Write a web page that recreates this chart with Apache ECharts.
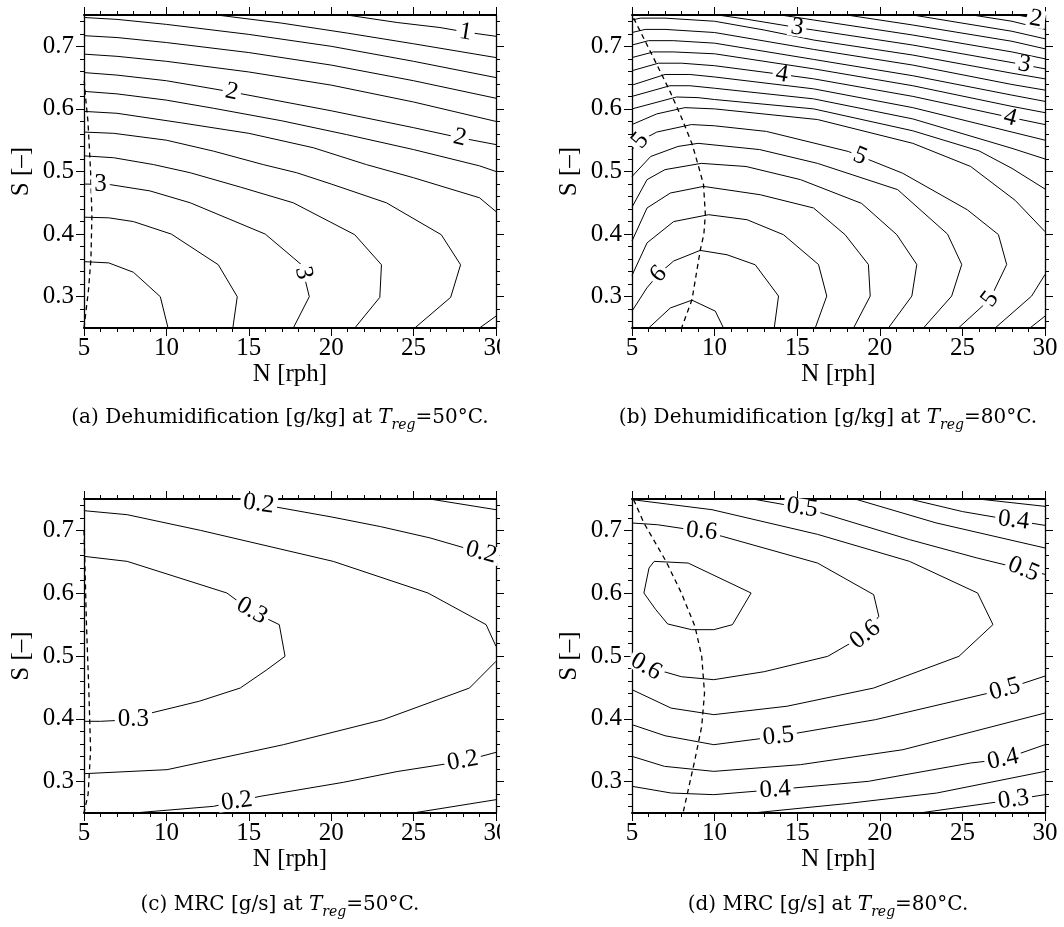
<!DOCTYPE html>
<html><head><meta charset="utf-8">
<script src="https://cdn.jsdelivr.net/npm/echarts@6/dist/echarts.min.js"></script>
<style>html,body{margin:0;padding:0;background:#fff}#c{width:1064px;height:927px}</style>
</head><body><div id="c"></div>
<script>
// ---------- tick values ----------
const yMajorTicks = [0.3, 0.4, 0.5, 0.6, 0.7];
const yMinorTicks = [0.26,0.28,0.32,0.34,0.36,0.38,0.42,0.44,0.46,0.48,0.52,0.54,0.56,0.58,0.62,0.64,0.66,0.68,0.72,0.74];

// ---------- (a) Dehumidification, Treg=50 ----------
const A_1_0 = [[20.95,0.75],[24,0.738],[26.6,0.730],[28.2,0.7226],[30,0.716]];
const A_1_2 = [[13.06,0.75],[17,0.737],[21,0.721],[25,0.704],[30,0.682]];
const A_1_4 = [[5,0.746],[7,0.743],[10,0.735],[15,0.719],[20,0.700],[25,0.676],[30,0.650]];
const A_1_6 = [[5,0.717],[7,0.714],[10,0.706],[15,0.690],[20,0.670],[25,0.645],[30,0.617]];
const A_1_8 = [[5,0.6875],[7,0.684],[10,0.676],[15,0.659],[20,0.638],[25,0.611],[30,0.580]];
const A_2_0 = [[5,0.658],[7,0.654],[10,0.645],[13.97,0.627],[20,0.597],[25,0.570],[27.8,0.554],[30,0.543]];
const A_2_2 = [[5,0.628],[7,0.624],[10,0.614],[12.86,0.601],[17,0.581],[20.93,0.559],[25,0.535],[29,0.509],[30,0.500]];
const A_2_4 = [[5,0.596],[7,0.593],[10.84,0.578],[15,0.561],[18.91,0.538],[22.14,0.511],[25,0.490],[29,0.458],[30,0.436]];
const A_2_4b = [[29.0,0.25],[30,0.269]];
const A_2_6 = [[5,0.563],[6.8,0.561],[10,0.550],[12.86,0.5325],[15.88,0.511],[17.91,0.498],[20,0.480],[23.35,0.450],[26.68,0.399],[27.85,0.351],[27.25,0.299],[25.07,0.25]];
const A_2_8 = [[5,0.525],[6.8,0.522],[9.23,0.511],[11.45,0.498],[14.5,0.475],[17.7,0.450],[21.43,0.399],[23.05,0.351],[22.95,0.299],[21.43,0.25]];
const A_3_0 = [[5,0.480],[6.6,0.479],[9,0.469],[11.45,0.450],[16.0,0.400],[18.2,0.351],[18.67,0.300],[17.7,0.25]];
const A_3_2 = [[5,0.427],[6.5,0.426],[8.0,0.420],[10.3,0.400],[13.15,0.351],[14.3,0.300],[14.03,0.25]];
const A_3_4 = [[5,0.356],[6.5,0.354],[8.0,0.339],[9.63,0.300],[10.1,0.25]];
const A_dash = [[5,0.25],[5.27,0.31],[5.42,0.36],[5.48,0.43],[5.40,0.50],[5.24,0.58],[5.09,0.62],[5.0,0.65]];
const A_labels = [[28.15,0.7226,'1',-9],[13.97,0.627,'2',-12],[27.8,0.554,'2',-13],[6.0,0.479,'3',0],[18.32,0.338,'3',-78]];

// ---------- (b) Dehumidification, Treg=80 ----------
const B_2_0 = [[28.3,0.75],[30,0.742]];
const B_2_2 = [[25.6,0.75],[28,0.740],[30,0.727]];
const B_2_4 = [[22,0.75],[28,0.724],[30,0.712]];
const B_2_6 = [[18.0,0.75],[22,0.734],[28,0.708],[30,0.696]];
const B_2_8 = [[14.0,0.75],[16,0.742],[22,0.718],[28,0.691],[30,0.680]];
const B_3_0 = [[10.2,0.75],[12,0.743],[15,0.730],[16,0.726],[22,0.702],[28,0.674],[30,0.664]];
const B_3_2 = [[5,0.742],[5.5,0.745],[7,0.745],[10,0.740],[13,0.726],[16,0.710],[22,0.686],[28,0.657],[30,0.648]];
const B_3_4 = [[5,0.722],[5.8,0.727],[7,0.727],[10,0.722],[16,0.695],[22,0.670],[28,0.639],[30,0.630]];
const B_3_6 = [[5,0.702],[6,0.709],[7.5,0.709],[10,0.705],[16,0.679],[22,0.653],[28,0.622],[30,0.612]];
const B_3_8 = [[5,0.682],[6.3,0.691],[7.5,0.691],[10,0.688],[16,0.664],[22,0.637],[28,0.604],[30,0.594]];
const B_4_0 = [[5,0.661],[6.6,0.673],[8,0.673],[10,0.669],[14.07,0.655],[16,0.648],[22,0.620],[27.8,0.587],[30,0.575]];
const B_4_2 = [[5,0.638],[7,0.655],[8.5,0.655],[10,0.651],[16,0.632],[22,0.602],[28,0.563],[30,0.550]];
const B_4_4 = [[5,0.620],[7.3,0.637],[8.5,0.637],[10,0.633],[16,0.616],[22,0.584],[28,0.537],[30,0.520]];
const B_4_6 = [[5,0.600],[7.7,0.619],[9,0.618],[10,0.615],[16,0.600],[22,0.565],[26,0.533],[28,0.505],[30,0.472]];
const B_4_6b = [[30,0.269],[29.09,0.25]];
const B_4_8 = [[5,0.575],[6.5,0.592],[8.2,0.602],[10,0.600],[16.23,0.583],[22,0.545],[25.5,0.508],[28.19,0.454],[30,0.404]];
const B_4_8b = [[30,0.3354],[29.19,0.301],[26.98,0.25]];
const B_5_0 = [[5,0.535],[5.5,0.549],[6.5,0.563],[8.6,0.575],[10,0.573],[13.14,0.564],[18.09,0.532],[21.38,0.4973],[25.3,0.4388],[27.18,0.3992],[27.68,0.3514],[26.67,0.296],[24.76,0.25]];
const B_5_2 = [[5,0.492],[6.13,0.524],[7.78,0.540],[9.0,0.545],[12.73,0.535],[16.23,0.513],[21.08,0.471],[24.1,0.400],[24.96,0.3514],[24.35,0.301],[22.64,0.25]];
const B_5_4 = [[5,0.443],[5.91,0.487],[7.0,0.503],[9.2,0.513],[11.9,0.508],[15.2,0.487],[18.9,0.449],[21.03,0.399],[22.24,0.3514],[21.94,0.301],[20.52,0.25]];
const B_5_6 = [[5,0.389],[5.91,0.4417],[7.32,0.4656],[9.33,0.4762],[12.76,0.4629],[15.99,0.4417],[17.9,0.399],[19.31,0.3514],[19.42,0.301],[18.41,0.25]];
const B_5_8 = [[5,0.334],[5.91,0.386],[7.52,0.420],[9.64,0.431],[11.96,0.423],[14.17,0.399],[16.29,0.3514],[16.79,0.301],[16.09,0.25]];
const B_6_0 = [[5,0.277],[5.9,0.314],[6.6,0.336],[7.52,0.357],[9.13,0.374],[10.75,0.367],[12.46,0.351],[13.87,0.301],[13.61,0.25]];
const B_6_2 = [[6.01,0.25],[7.32,0.282],[8.63,0.2945],[10.04,0.277],[10.54,0.25]];
const B_dash = [[5.1,0.745],[5.8,0.708],[6.5,0.671],[7.3,0.628],[8.0,0.586],[8.65,0.543],[9.05,0.506],[9.33,0.479],[9.44,0.431],[9.35,0.40],[9.13,0.374],[8.63,0.295],[8.0,0.25]];
const B_labels = [[15.0,0.730,'3',-9],[28.75,0.671,'3',-10],[14.07,0.655,'4',-9],[27.9,0.586,'4',-15],[29.45,0.744,'2',-10],[5.5,0.549,'5',50],[18.8,0.5245,'5',-22],[26.67,0.296,'5',53],[6.6,0.336,'6',45]];

// ---------- (c) MRC, Treg=50 ----------
const C_0_15a = [[25.97,0.75],[30,0.733]];
const C_0_20a = [[15.2,0.75],[16.7,0.737],[20.1,0.721],[23.0,0.706],[26.0,0.688],[28.1,0.672],[30,0.658]];
const C_0_25a = [[5,0.7314],[7.62,0.725],[12.06,0.7001],[20.12,0.6507],[25.87,0.6003],[29.4,0.5499],[30,0.5154]];
const C_0_30 = [[5,0.6587],[7.62,0.6507],[13.67,0.6003],[15.18,0.5711],[16.85,0.5499],[17.2,0.4995],[16.09,0.478],[14.48,0.449],[12,0.428],[9.03,0.409],[8.02,0.3986],[6.01,0.396],[5,0.396]];
const C_0_25b = [[30,0.4915],[28.39,0.449],[23.15,0.3986],[17.1,0.3588],[10.04,0.319],[5,0.3126]];
const C_0_20b = [[8.0,0.25],[12.86,0.2606],[14.27,0.2686],[15.69,0.2765],[20.73,0.2988],[24,0.316],[27.98,0.3323],[30,0.3466]];
const C_0_15b = [[24.96,0.25],[30,0.2712]];
const C_dash = [[5.0,0.70],[5.05,0.65],[5.15,0.55],[5.3,0.44],[5.4,0.35],[5.25,0.28],[5.0,0.25]];
const C_labels = [[15.6,0.742,'0.2',-8],[15.18,0.572,'0.3',-30],[8.0,0.399,'0.3',0],[29.1,0.665,'0.2',-15],[27.98,0.333,'0.2',10],[14.27,0.2686,'0.2',8]];

// ---------- (d) MRC, Treg=80 ----------
const D_0_35a = [[25.97,0.75],[30,0.7383]];
const D_0_40a = [[21.8,0.75],[25,0.730],[28.1,0.716],[30,0.708]];
const D_0_45a = [[18.5,0.75],[23.4,0.712],[30,0.672]];
const D_0_50a = [[12.3,0.75],[15.3,0.736],[16.44,0.728],[21.8,0.6853],[25.9,0.656],[28.7,0.638],[30,0.630]];
const D_0_55 = [[5,0.749],[9.84,0.733],[16.23,0.6937],[21.8,0.6507],[25.92,0.6003],[26.85,0.55],[24.79,0.4995],[19.63,0.449],[14.38,0.42],[9.95,0.4066],[7.37,0.417],[5,0.4464]];
const D_0_60 = [[5,0.7118],[6.55,0.709],[9.22,0.6985],[10.46,0.6906],[16.23,0.648],[19.63,0.5977],[19.94,0.5632],[19.12,0.534],[16.85,0.4995],[13,0.475],[9.95,0.4623],[7.99,0.467],[5.82,0.4835],[5,0.5048]];
const D_0_65 = [[6.34,0.6507],[8.4,0.648],[12.21,0.6003],[11.08,0.5499],[9.95,0.5419],[8.61,0.5419],[7.16,0.551],[6.44,0.5738],[5.72,0.6003],[6.03,0.6401],[6.34,0.6507]];
const D_0_50b = [[5,0.3907],[7,0.373],[9.95,0.3588],[13.86,0.3721],[19.73,0.3986],[24.5,0.428],[27.57,0.447],[30,0.468]];
const D_0_45b = [[5,0.3402],[6.96,0.3243],[9.95,0.3163],[15.2,0.327],[21.4,0.3508],[30,0.4092]];
const D_0_40b = [[5,0.2925],[7.37,0.2818],[9.95,0.2792],[13.66,0.2872],[19.3,0.3004],[25.5,0.3296],[27.46,0.3355],[30,0.3588]];
const D_0_35b = [[12.3,0.25],[18,0.265],[23.45,0.2818],[30,0.3163]];
const D_0_30b = [[22.4,0.25],[28.1,0.2712],[30,0.2792]];
const D_dash = [[5.1,0.749],[5.72,0.7118],[7.06,0.6507],[7.99,0.6003],[8.81,0.5472],[9.22,0.4995],[9.39,0.4411],[9.22,0.388],[8.81,0.335],[8.09,0.25]];
const D_labels = [[9.22,0.6985,'0.6',-5],[19.12,0.534,'0.6',38],[5.85,0.483,'0.6',-30],[15.3,0.736,'0.5',-8],[28.7,0.638,'0.5',-22],[28.1,0.716,'0.4',-7],[13.86,0.3721,'0.5',6],[27.57,0.447,'0.5',15],[13.66,0.2872,'0.4',4],[27.46,0.3355,'0.4',12],[28.1,0.2712,'0.3',8]];

const captions = [
  '(a) Dehumidification [g/kg] at {it|T}{sub|reg}=50°C.',
  '(b) Dehumidification [g/kg] at {it|T}{sub|reg}=80°C.',
  '(c) MRC [g/s] at {it|T}{sub|reg}=50°C.',
  '(d) MRC [g/s] at {it|T}{sub|reg}=80°C.'
];

// ---------- build ----------
const FONT = 'Liberation Serif';
const CFONT = 'DejaVu Serif';
const panels = [
  {lines:[A_1_0,A_1_2,A_1_4,A_1_6,A_1_8,A_2_0,A_2_2,A_2_4,A_2_4b,A_2_6,A_2_8,A_3_0,A_3_2,A_3_4], dash:A_dash, labels:A_labels},
  {lines:[B_2_0,B_2_2,B_2_4,B_2_6,B_2_8,B_3_0,B_3_2,B_3_4,B_3_6,B_3_8,B_4_0,B_4_2,B_4_4,B_4_6,B_4_6b,B_4_8,B_4_8b,B_5_0,B_5_2,B_5_4,B_5_6,B_5_8,B_6_0,B_6_2], dash:B_dash, labels:B_labels},
  {lines:[C_0_15a,C_0_20a,C_0_25a,C_0_30,C_0_25b,C_0_20b,C_0_15b], dash:C_dash, labels:C_labels},
  {lines:[D_0_35a,D_0_40a,D_0_45a,D_0_50a,D_0_55,D_0_60,D_0_65,D_0_50b,D_0_45b,D_0_40b,D_0_35b,D_0_30b], dash:D_dash, labels:D_labels}
];
const grids = [
  {left:84, top:15, width:412, height:313},
  {left:632, top:15, width:413, height:313},
  {left:84, top:499, width:412, height:314},
  {left:632, top:499, width:413, height:314}
];
const captionPos = [[280,418],[828,418],[280,905],[828,905]];

function makeX(gi, pos, withLabels){
  return {
    gridIndex:gi, type:'value', min:5, max:30, interval:5, position:pos,
    axisLine:{show:true, onZero:false, lineStyle:{color:'#000', width:2}},
    axisTick:{show:true, length:8, lineStyle:{color:'#000', width:1}},
    minorTick:{show:true, splitNumber:5, length:4, lineStyle:{color:'#000', width:1}},
    splitLine:{show:false}, minorSplitLine:{show:false},
    axisLabel: withLabels ? {show:true, margin:8, fontFamily:FONT, fontSize:25, color:'#000'} : {show:false},
    name: withLabels ? 'N [rph]' : '', nameLocation:'middle', nameGap:32,
    nameTextStyle:{fontFamily:FONT, fontSize:25, color:'#000'}
  };
}
function makeY(gi, pos, major, withLabels){
  return {
    gridIndex:gi, type:'value', min:0.25, max:0.75, position:pos,
    axisLine:{show:major, onZero:false, lineStyle:{color:'#000', width:1.3}},
    axisTick:{show:true, length: major ? 8 : 4, customValues: major ? yMajorTicks : yMinorTicks, lineStyle:{color:'#000', width:1}},
    splitLine:{show:false},
    axisLabel: withLabels ? {show:true, customValues:yMajorTicks, formatter:(v)=>(+v).toFixed(1), margin:10, fontFamily:FONT, fontSize:25, color:'#000'} : {show:false},
    name: withLabels ? 'S [–]' : '', nameLocation:'middle', nameGap:50,
    nameTextStyle:{fontFamily:FONT, fontSize:25, color:'#000'}
  };
}

const xAxis = [], yAxis = [], series = [];
panels.forEach((p, gi) => {
  xAxis.push(makeX(gi,'bottom',true), makeX(gi,'top',false));
  yAxis.push(makeY(gi,'left',true,true), makeY(gi,'left',false,false), makeY(gi,'right',true,false), makeY(gi,'right',false,false));
  const xi = gi*2, yi = gi*4;
  p.lines.forEach(l => series.push({type:'line', xAxisIndex:xi, yAxisIndex:yi, data:l, symbol:'none', smooth:false,
    lineStyle:{color:'#000', width:1}, silent:true, z:2, animation:false}));
  series.push({type:'line', xAxisIndex:xi, yAxisIndex:yi, data:p.dash, symbol:'none',
    lineStyle:{color:'#000', width:1.3, type:[5,4]}, silent:true, z:2, animation:false});
  series.push({type:'scatter', xAxisIndex:xi, yAxisIndex:yi, symbolSize:0, itemStyle:{color:'#000', opacity:1},
    data: p.labels.map(l => ({name:l[2], value:[l[0], l[1]], label:{rotate:l[3]}})),
    label:{show:true, position:'inside', formatter:'{b}', fontFamily:FONT, fontSize:25, color:'#000', opacity:1,
      textBorderWidth:0, backgroundColor:'#fff', padding:[0,3], lineHeight:18},
    silent:true, z:5, animation:false});
});

const graphic = [
  {type:'rect', shape:{x:500, y:332, width:30, height:40}, style:{fill:'#fff'}, z:100},
  {type:'rect', shape:{x:500, y:817, width:30, height:40}, style:{fill:'#fff'}, z:100}
];
captions.forEach((t, i) => {
  graphic.push({type:'text', x:captionPos[i][0], y:captionPos[i][1], z:100,
    style:{text:t, fontFamily:CFONT, fontSize:20, fill:'#000', align:'center', verticalAlign:'middle', lineHeight:28,
      rich:{
        it:{fontFamily:CFONT, fontSize:20, fontStyle:'italic', fill:'#000', lineHeight:28},
        sub:{fontFamily:CFONT, fontSize:14, fontStyle:'italic', fill:'#000', lineHeight:14, verticalAlign:'bottom'}
      }}});
});

const chart = echarts.init(document.getElementById('c'));
chart.setOption({animation:false, backgroundColor:'#fff', grid:grids, xAxis, yAxis, series, graphic});
</script></body></html>
